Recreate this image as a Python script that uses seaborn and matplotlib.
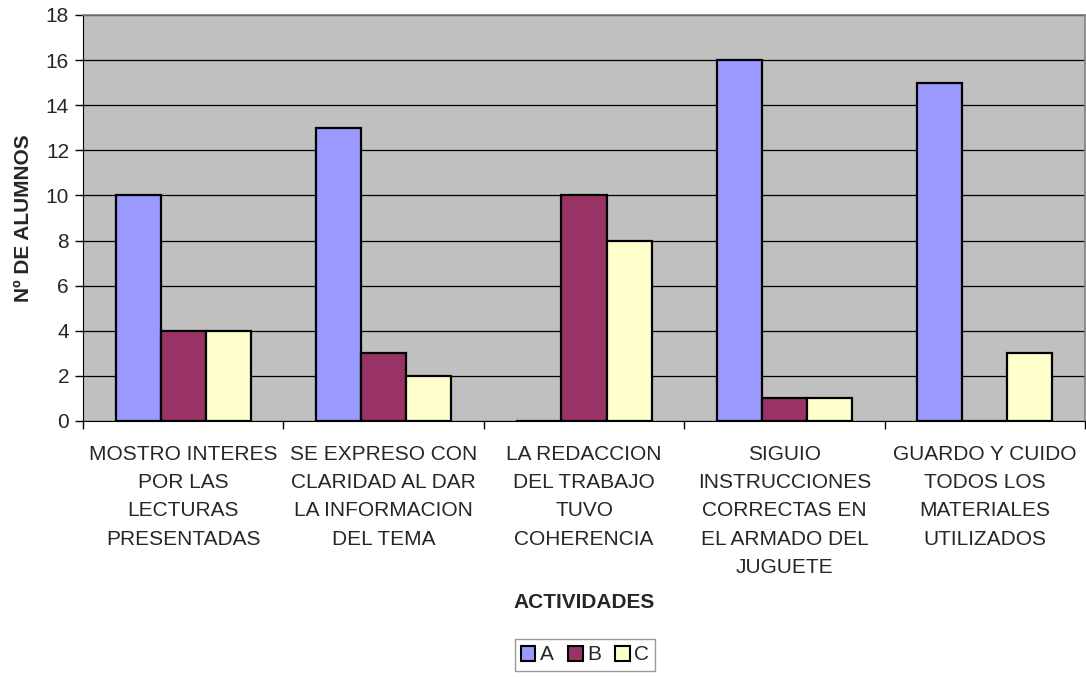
import pandas as pd
import numpy as np
import seaborn as sns
import matplotlib.pyplot as plt
from matplotlib.patches import Patch

# Data
actividades = [
    "MOSTRO INTERES\nPOR LAS\nLECTURAS\nPRESENTADAS",
    "SE EXPRESO CON\nCLARIDAD AL DAR\nLA INFORMACION\nDEL TEMA",
    "LA REDACCION\nDEL TRABAJO\nTUVO\nCOHERENCIA",
    "SIGUIO\nINSTRUCCIONES\nCORRECTAS EN\nEL ARMADO DEL\nJUGUETE",
    "GUARDO Y CUIDO\nTODOS LOS\nMATERIALES\nUTILIZADOS",
]
grupos = ["A", "B", "C"]
valores_a = [10, 13, 0, 16, 15]
valores_b = [4, 3, 10, 1, 0]
valores_c = [4, 2, 8, 1, 3]
colores = ["#9999FF", "#993366", "#FFFFCC"]

df = pd.DataFrame({
    "actividad": actividades * 3,
    "grupo": ["A"] * 5 + ["B"] * 5 + ["C"] * 5,
    "alumnos": valores_a + valores_b + valores_c,
})

sns.set_style("white")
plt.rcParams["font.family"] = ["Liberation Sans", "DejaVu Sans"]
fs = 15

fig = plt.figure(figsize=(10.86, 6.77), dpi=100)
ax = fig.add_axes([83 / 1086, 1 - 421 / 677, 1002 / 1086, 406 / 677])

sns.barplot(data=df, x="actividad", y="alumnos", hue="grupo", hue_order=grupos,
            order=actividades, palette=colores, width=0.675, saturation=1,
            edgecolor="black", linewidth=1.6, legend=False, ax=ax)

ax.set_facecolor("#C0C0C0")
ax.set_xlim(-0.5, 4.5)
ax.set_ylim(0, 18)
ax.set_yticks(np.arange(0, 19, 2))
ax.yaxis.grid(True, color="black", linewidth=0.9)
ax.set_axisbelow(True)
for s in ["top", "right"]:
    ax.spines[s].set_color("#808080")
    ax.spines[s].set_linewidth(1.2)
ax.spines["left"].set_color("black")
ax.spines["bottom"].set_color("black")

ax.tick_params(axis="y", which="major", direction="out", length=6, width=1,
               labelsize=fs, pad=4, left=True, color="black")
ax.tick_params(axis="x", which="major", length=0, labelsize=fs, pad=17)
ax.set_xticks(np.arange(-0.5, 5, 1), minor=True)
ax.tick_params(axis="x", which="minor", direction="out", length=6, width=1,
               bottom=True, color="black")
for lbl in ax.get_xticklabels():
    lbl.set_linespacing(1.62)

ax.set_ylabel("Nº DE ALUMNOS", fontsize=fs, fontweight="bold")
ax.yaxis.set_label_coords(-0.050, 0.5)
ax.set_xlabel("ACTIVIDADES", fontsize=fs, fontweight="bold")
ax.xaxis.set_label_coords(0.5, -0.424)

handles = [Patch(facecolor=c, edgecolor="black", linewidth=1.5) for c in colores]
leg = fig.legend(handles, grupos, loc="center", bbox_to_anchor=(585 / 1086, 1 - 655 / 677),
                 ncol=3, frameon=True, fancybox=False, fontsize=fs,
                 handlelength=0.7, handleheight=0.7, handletextpad=0.2,
                 columnspacing=0.7, borderpad=0.3)
leg.get_frame().set_edgecolor("#808080")
leg.get_frame().set_linewidth(1)

fig.savefig("out.png", dpi=100)
